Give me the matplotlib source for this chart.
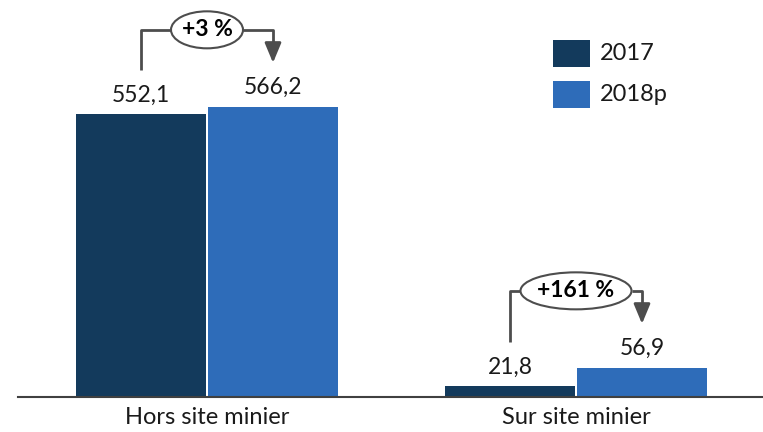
import matplotlib
matplotlib.use("Agg")
import matplotlib.pyplot as plt
from matplotlib.patches import Ellipse, Rectangle
import numpy as np

categories = ["Hors site minier", "Sur site minier"]
series_names = ["2017", "2018p"]
values_2017 = [552.1, 21.8]
values_2018 = [566.2, 56.9]
value_labels_2017 = ["552,1", "21,8"]
value_labels_2018 = ["566,2", "56,9"]
growth_labels = ["+3 %", "+161 %"]

dark = "#133A5C"
blue = "#2E6CB9"
gray = "#4D4D4D"
txt = "#1a1a1a"

plt.rcParams['font.family'] = ['Lato', 'DejaVu Sans']

W, H = 763, 432
fig = plt.figure(figsize=(W / 100, H / 100), dpi=100)
ax_left, ax_bottom_px = 18, 397
ax = fig.add_axes([ax_left / W, (H - ax_bottom_px) / H, (W - ax_left) / W, ax_bottom_px / H])

px_per_unit = 0.5125
ax.set_ylim(0, ax_bottom_px / px_per_unit)
x = np.arange(len(categories))
unit_px = 369.0
ax.set_xlim((ax_left - 207) / unit_px, (W - 207) / unit_px)

bw = 130 / unit_px
off = 66 / unit_px
ax.bar(x - off, values_2017, bw, color=dark, label=series_names[0])
ax.bar(x + off, values_2018, bw, color=blue, label=series_names[1])

for xi, v, lab in zip(x - off, values_2017, value_labels_2017):
    ax.annotate(lab, (xi, v), xytext=(0, 13.5), textcoords="offset points",
                ha="center", va="center", fontsize=16.5, color=txt)
for xi, v, lab in zip(x + off, values_2018, value_labels_2018):
    ax.annotate(lab, (xi, v), xytext=(0, 14), textcoords="offset points",
                ha="center", va="center", fontsize=16.5, color=txt)

def u(px):
    return px / px_per_unit

for i in range(len(categories)):
    v1, v2 = values_2017[i], values_2018[i]
    xl, xr = x[i] - off, x[i] + off
    level = max(v1, v2) + u(77)
    start = v1 + u(44)
    tip = v2 + u(44)
    ew = (72 if i == 0 else 111) / unit_px
    eh = u(37)
    ax.plot([xl, xl, x[i] - ew / 2], [start, level, level], color=gray, lw=2, solid_capstyle="butt")
    ax.plot([x[i] + ew / 2, xr, xr], [level, level, tip + u(14)], color=gray, lw=2, solid_capstyle="butt")
    ax.annotate("", xy=(xr, tip), xytext=(xr, tip + u(18)),
                arrowprops=dict(arrowstyle="-|>,head_width=0.5,head_length=1.2", color=gray, lw=2,
                                shrinkA=0, shrinkB=0))
    ax.add_patch(Ellipse((x[i], level), ew, eh, facecolor="white", edgecolor=gray, lw=1.5, zorder=3))
    ax.text(x[i], level, growth_labels[i], ha="center", va="center", fontsize=16.5,
            fontweight="bold", color="black", zorder=4)

ax.set_xticks(x)
ax.set_xticklabels(categories, fontsize=17, color=txt)
ax.tick_params(axis="x", length=0, pad=7)
ax.set_yticks([])
for s in ["top", "right", "left"]:
    ax.spines[s].set_visible(False)
ax.spines["bottom"].set_color("#404040")
ax.spines["bottom"].set_linewidth(1.5)

# legend (manual, figure pixel coords from top)
def fx(px):
    return px / W
def fy(py):
    return 1 - py / H

legend_items = [(series_names[0], dark, 40), (series_names[1], blue, 81)]
for name, col, top in legend_items:
    fig.patches.append(Rectangle((fx(553), fy(top + 27)), 37 / W, 27 / H, transform=fig.transFigure,
                                 facecolor=col, edgecolor="none"))
    fig.text(fx(600), fy(top + 13.5), name, ha="left", va="center", fontsize=17, color=txt)

fig.savefig("out.png", dpi=100)
